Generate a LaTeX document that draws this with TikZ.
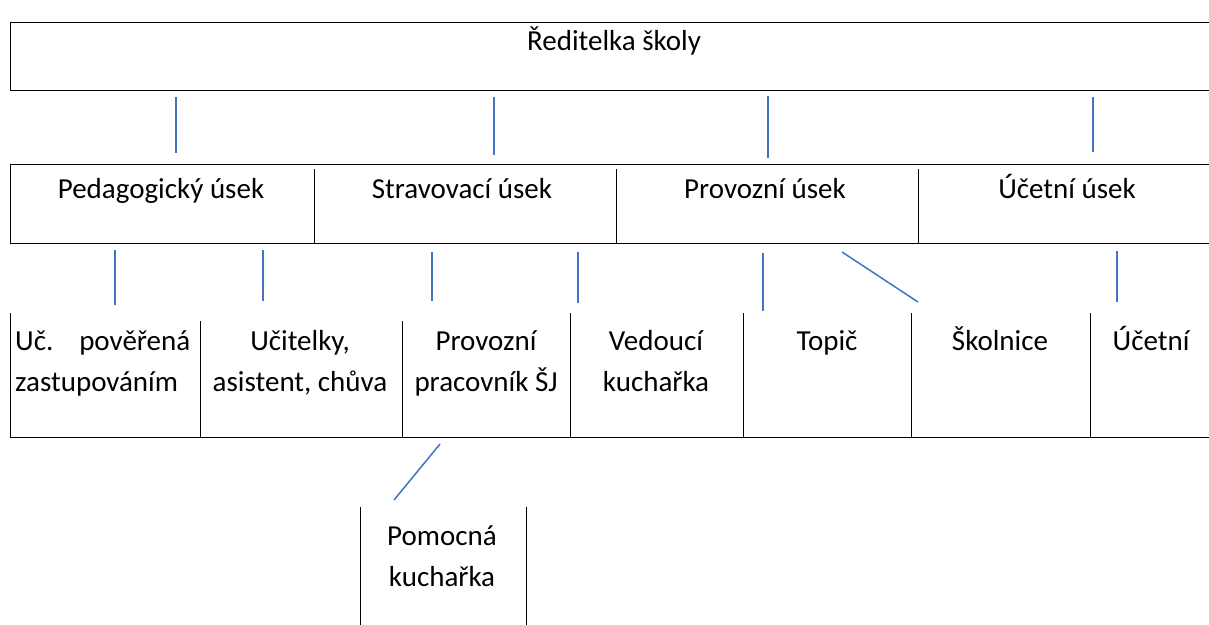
\documentclass[tikz,border=0pt]{standalone}
\usepackage{fontspec}
\setmainfont{Carlito}
\definecolor{linkblue}{RGB}{68,114,196}
\tikzset{
  border/.style={black, line width=1pt},
  link/.style={draw=linkblue, line width=1.5pt},
  lbl/.style={font=\fontsize{29}{41}\selectfont, inner sep=0pt, align=center, anchor=base},
}
\begin{document}
\begin{tikzpicture}[x=1pt,y=-1pt]
\useasboundingbox (0,0) rectangle (1209,624);
% ---- director box
\draw[border] (1220,22) -- (10,22) -- (10,90) -- (1220,90);
\node[lbl] (dir) at (614,50) {Ředitelka školy};
% ---- section row
\draw[border] (1220,164) -- (10,164) -- (10,243) -- (1220,243);
\foreach \x in {314,616,918} \draw[border] (\x,169) -- (\x,243);
\node[lbl] (ped) at (161,198) {Pedagogický úsek};
\node[lbl] (str) at (462,198) {Stravovací úsek};
\node[lbl] (pro) at (765,198) {Provozní úsek};
\node[lbl] (uce) at (1067,198) {Účetní úsek};
% ---- staff row
\draw[border] (10,313) -- (10,437) -- (1220,437);
\foreach \x/\t in {200/321,402/321,570/313,743/313,911/313,1090/313} \draw[border] (\x,\t) -- (\x,437);
\node[lbl, text width=175pt, align=left, anchor=base west] (zas) at (15,350) {Uč.\hfill pověřená\\zastupováním};
\node[lbl] (uci) at (300,391) {Učitelky,\\asistent, chůva};
\node[lbl] (ppsj) at (486,391) {Provozní\\pracovník ŠJ};
\node[lbl] (ved) at (656,391) {Vedoucí\\kuchařka};
\node[lbl] (top) at (827,350) {Topič};
\node[lbl] (sko) at (1000,350) {Školnice};
\node[lbl] (ucet) at (1151,350) {Účetní};
% ---- helper cook
\draw[border] (360,507) -- (360,630);
\draw[border] (526,507) -- (526,630);
\node[lbl] (pom) at (442,586) {Pomocná\\kuchařka};
% ---- connectors
\foreach \n/\xa/\ya/\xb/\yb in {
  a/176/97/176/153, b/494/97/494/155, c/768/96/768/158, d/1093/97/1093/152,
  e/115/250/115/305, f/263/250/263/301, g/432/252/432/301, h/578/252/578/303,
  i/763/253/763/311, j/842/252/918/302, k/1117/251/1117/302, l/440/444/394/500}{
  \coordinate (\n1) at (\xa,\ya);
  \coordinate (\n2) at (\xb,\yb);
  \draw[link] (\n1) -- (\n2);
}
\end{tikzpicture}
\end{document}
